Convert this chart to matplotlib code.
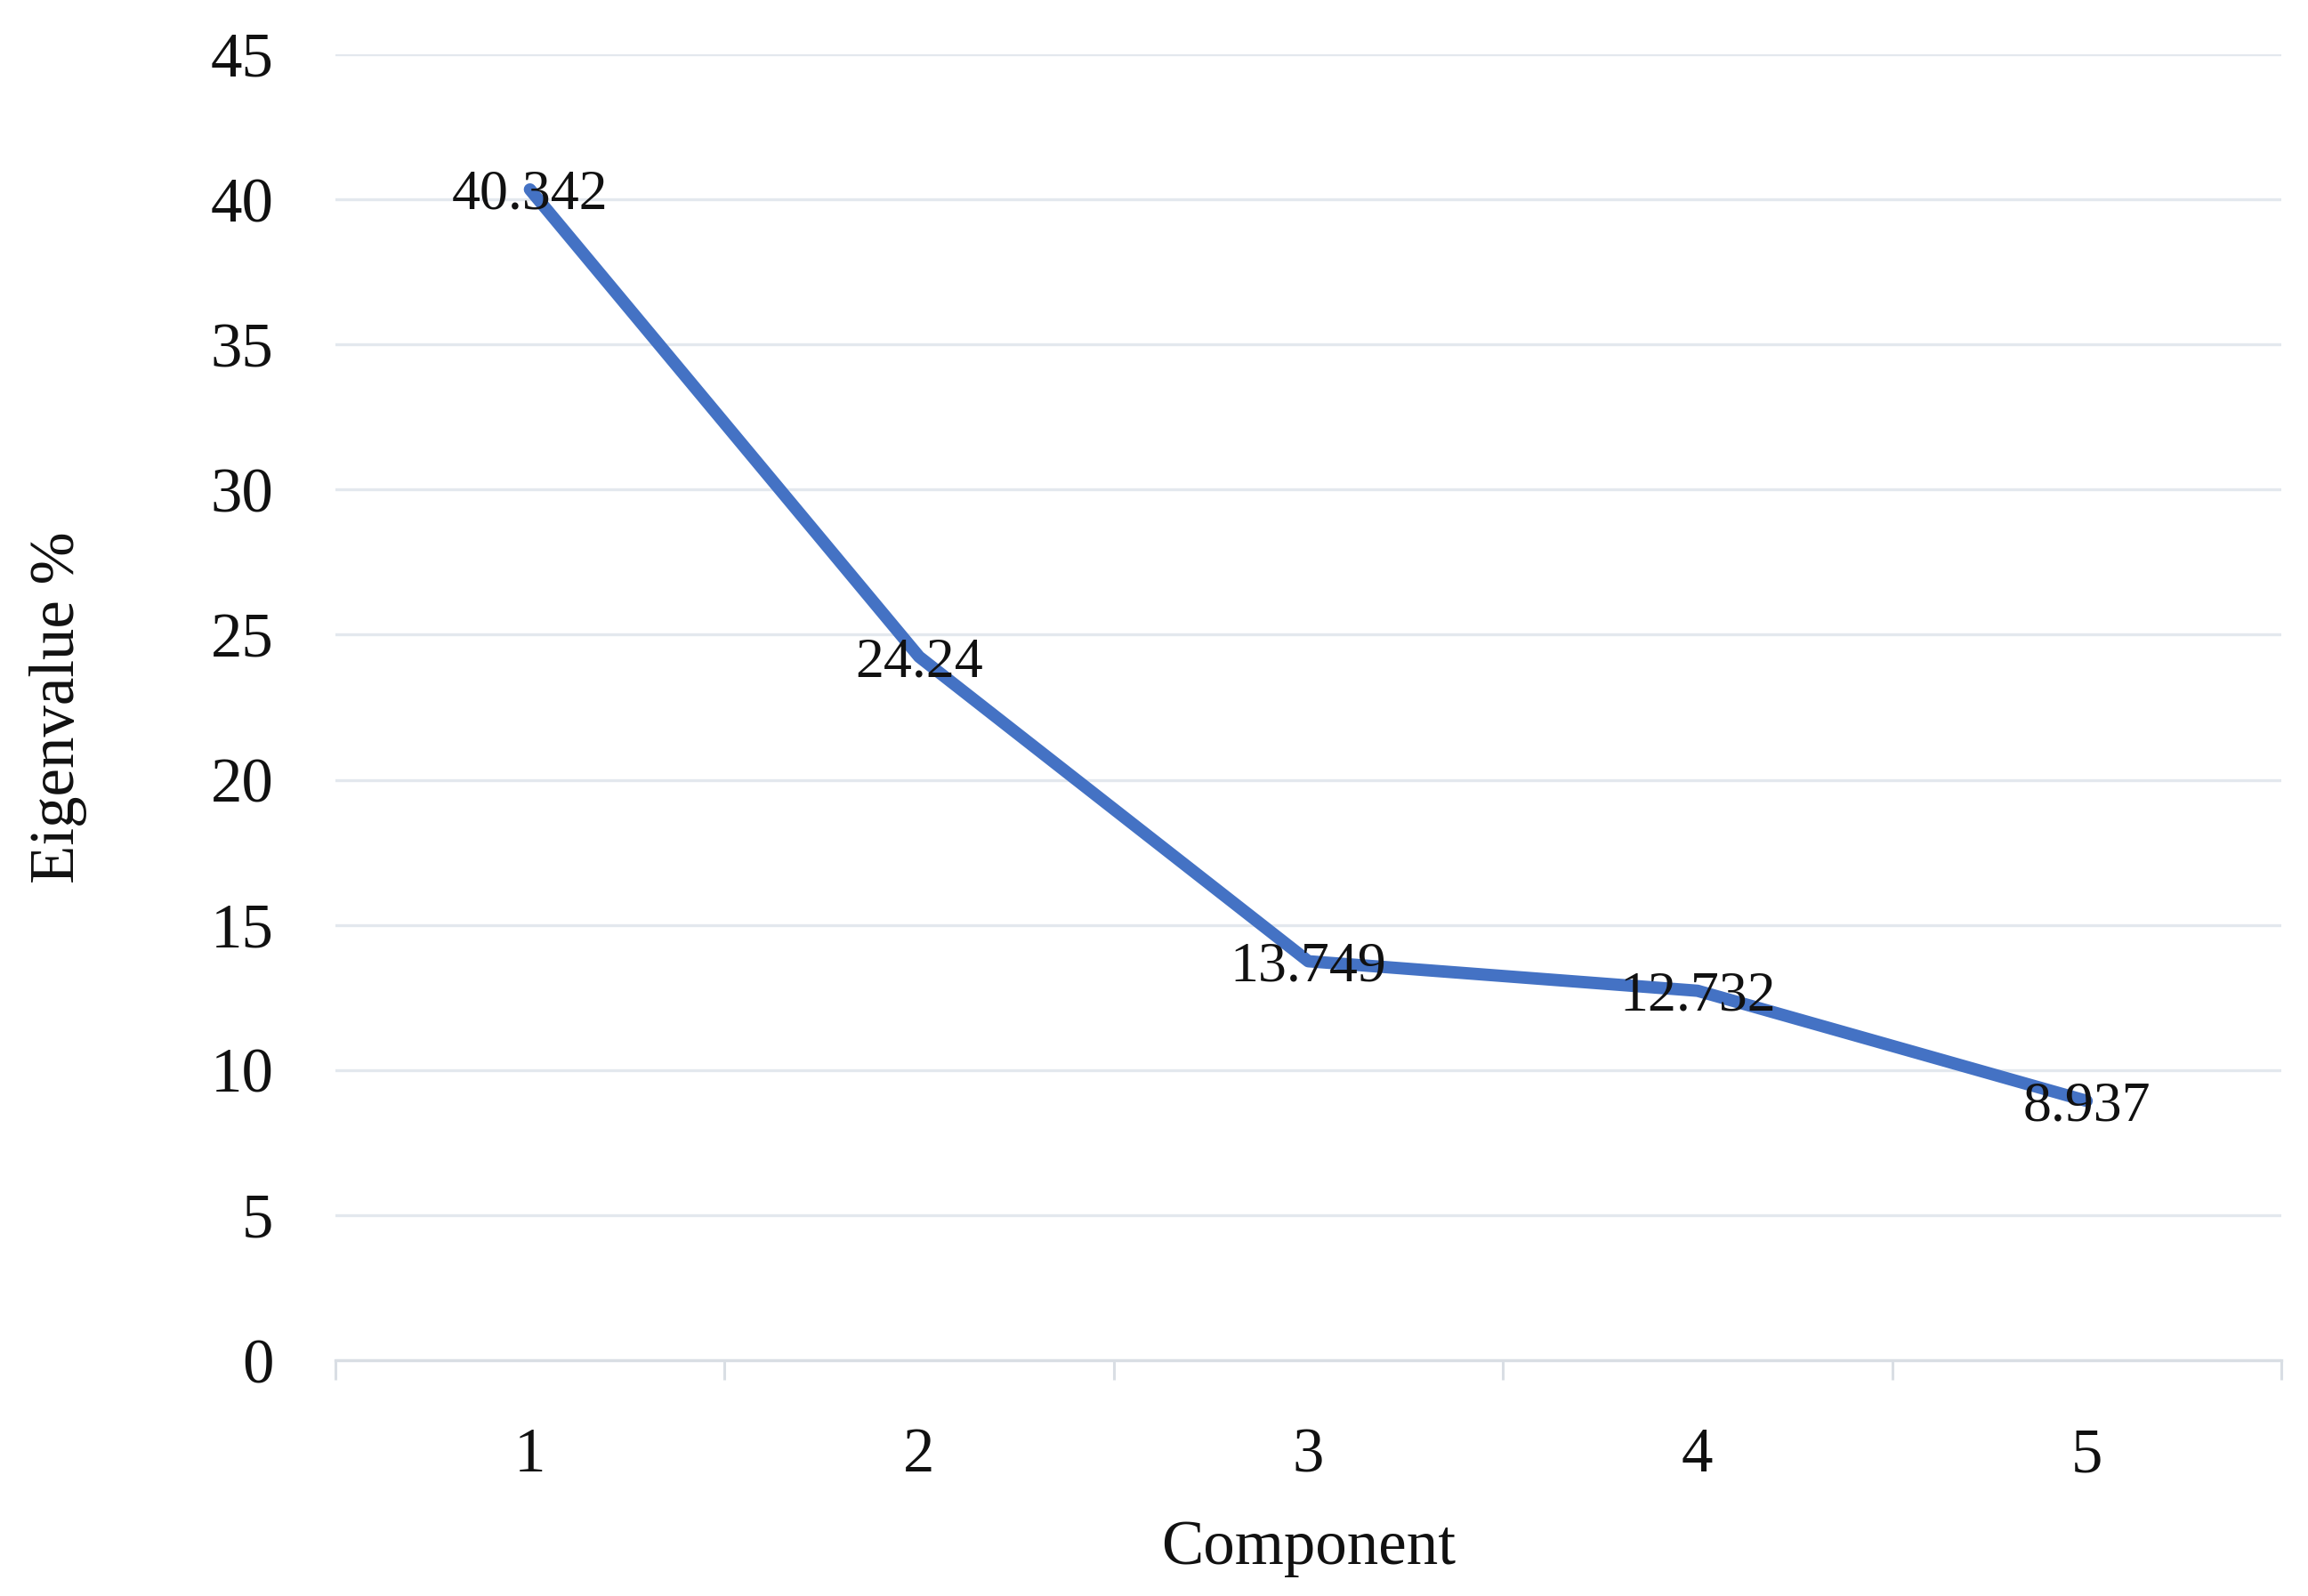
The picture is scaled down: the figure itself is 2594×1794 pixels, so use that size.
import matplotlib
matplotlib.use("Agg")
import matplotlib.pyplot as plt
from matplotlib.ticker import FixedLocator

components = ["1", "2", "3", "4", "5"]
eigen_pct = [40.342, 24.24, 13.749, 12.732, 8.937]
label_texts = ["40.342", "24.24", "13.749", "12.732", "8.937"]
y_ticks = [0, 5, 10, 15, 20, 25, 30, 35, 40, 45]

plt.rcParams['font.family'] = ['Liberation Serif', 'DejaVu Serif']

fig = plt.figure(figsize=(12.97, 8.97), dpi=200)
ax = fig.add_axes([0.1453, 0.1477, 0.9884 - 0.1453, 0.966 - 0.1477])

x = list(range(1, len(components) + 1))
ax.plot(x, eigen_pct, color="#4472C4", linewidth=5.0, solid_capstyle="round",
        solid_joinstyle="round", zorder=3)
for xi, yi, t in zip(x, eigen_pct, label_texts):
    ax.text(xi, yi, t, ha="center", va="center_baseline", fontsize=23, color="#111111", zorder=4)

ax.set_xlim(0.5, len(components) + 0.5)
ax.set_ylim(0, 45)
ax.set_yticks(y_ticks)
ax.set_xticks(x)
ax.set_xticklabels(components)
ax.xaxis.set_minor_locator(FixedLocator([i + 0.5 for i in range(0, len(components) + 1)]))

grid_c = "#E3E8EE"
ax.grid(axis="y", color=grid_c, linewidth=1.2, zorder=0)
ax.set_axisbelow(True)
for s in ["top", "right", "left"]:
    ax.spines[s].set_visible(False)
ax.spines["bottom"].set_color("#D9DEE4")
ax.spines["bottom"].set_linewidth(1.2)

ax.tick_params(axis="y", length=0, pad=25, labelsize=25.5, labelcolor="#111111")
ax.tick_params(axis="x", which="major", length=0, pad=27, labelsize=25.5, labelcolor="#111111")
ax.tick_params(axis="x", which="minor", length=8, width=1.1, color="#D9DEE4")

ax.set_xlabel("Component", fontsize=25.5, labelpad=14, color="#111111")
ax.set_ylabel("Eigenvalue %", fontsize=25.5, labelpad=50, color="#111111")

fig.savefig("out.png", dpi=200, facecolor="white")
